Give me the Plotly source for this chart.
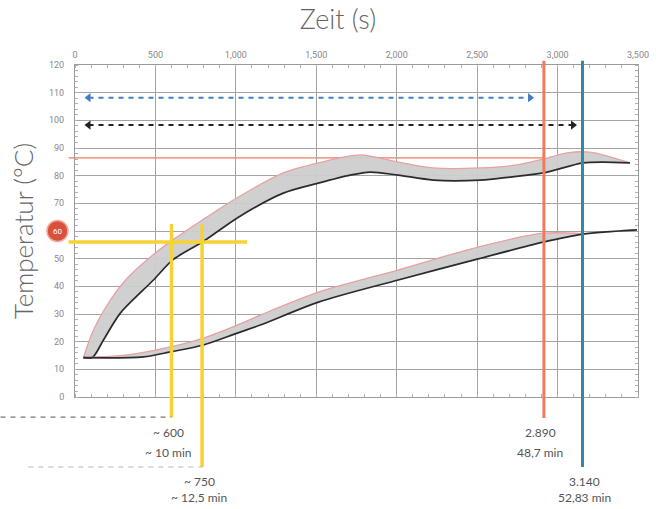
import plotly.graph_objects as go

# ---------------- data ----------------
X_RANGE = [0, 3500]
Y_RANGE = [0, 120]
x_tick_vals = [0, 500, 1000, 1500, 2000, 2500, 3000, 3500]
x_tick_text = ["0", "500", "1,000", "1,500", "2,000", "2,500", "3,000", "3,500"]
y_tick_vals = [0, 10, 20, 30, 40, 50, 60, 70, 80, 90, 100, 110, 120]
y_tick_text = ["0", "10", "20", "30", "40", "50", "", "70", "80", "90", "100", "110", "120"]

# upper (fast) band
upper_hi_s = [52, 115, 220, 326, 469, 606, 792, 1016, 1295, 1513, 1773, 2009, 2227, 2519, 2749, 2910, 3059, 3202, 3450]
upper_hi_t = [14.2, 24.2, 35, 43, 50.6, 56.7, 64, 72.3, 81, 84.6, 87.5, 84.9, 82.8, 82.8, 83.9, 86, 88.2, 88.5, 84.6]
upper_lo_s = [52, 110, 177, 283, 488, 606, 792, 1016, 1295, 1513, 1711, 1835, 2009, 2227, 2519, 2705, 2910, 3158, 3283, 3450]
upper_lo_t = [14.2, 14.4, 20.6, 30.4, 42.3, 49.5, 56, 65, 73.7, 77.3, 80.2, 81.3, 80.2, 78.4, 78.4, 79.5, 81, 84.6, 84.9, 84.6]

# lower (slow) band
lower_hi_s = [52, 326, 593, 798, 1009, 1152, 1513, 2009, 2506, 2910, 3158]
lower_hi_t = [14.2, 15.2, 18.1, 21.3, 26, 29.6, 37.9, 45.9, 54.2, 59.2, 59.0]
lower_lo_s = [52, 425, 593, 798, 1009, 1152, 1513, 2009, 2506, 2910, 3158, 3494]
lower_lo_t = [14.2, 14.5, 16.3, 18.8, 23.1, 26, 34.3, 42.3, 49.9, 56, 58.9, 60.4]

# reference lines
red_limit_t = 86.4
red_limit_range = [-40, 2915]
red_mark_s = 2915
blue_mark_s = 3155
yellow_marks_s = [600, 790]
yellow_level_t = 56
yellow_level_range = [-40, 1070]
blue_arrow = dict(s=[84, 2829], t=108.2)
black_arrow = dict(s=[84, 3096], t=98.3)
marker60 = dict(s=-109, t=60, text="60")

labels = [
    (580, -13.0, "~ 600"), (580, -19.9, "~ 10 min"),
    (773, -30.7, "~ 750"), (773, -36.5, "~ 12,5 min"),
    (2891, -13.0, "2.890"), (2891, -19.9, "48,7 min"),
    (3170, -30.7, "3.140"), (3170, -36.5, "52,83 min"),
]

# ---------------- helpers (axis value -> fraction of the plot area) ----------------
def xd(s):
    return (s - X_RANGE[0]) / (X_RANGE[1] - X_RANGE[0])

def yd(t):
    return (t - Y_RANGE[0]) / (Y_RANGE[1] - Y_RANGE[0])

PINK = "#e9a0a0"
BLACK = "#2b2b2b"
FILL = "rgba(205,205,205,0.95)"
RED = "#f07a5c"
BLUE = "#2f8aa6"
YELLOW = "#f6d335"

fig = go.Figure()

def band(hs, ht, ls, lt):
    fig.add_trace(go.Scatter(x=hs, y=ht, mode="lines", line=dict(color=PINK, width=1.3, shape="spline", smoothing=0.8),
                             hoverinfo="skip", showlegend=False))
    fig.add_trace(go.Scatter(x=ls, y=lt, mode="lines", line=dict(color=BLACK, width=1.7, shape="spline", smoothing=0.8),
                             fill="tonexty", fillcolor=FILL, hoverinfo="skip", showlegend=False))

band(upper_hi_s, upper_hi_t, upper_lo_s, upper_lo_t)
band(lower_hi_s, lower_hi_t, lower_lo_s, lower_lo_t)

# dashed arrows
for arr, col in [(blue_arrow, "#3f7fbd"), (black_arrow, "#222222")]:
    fig.add_trace(go.Scatter(
        x=arr["s"], y=[arr["t"], arr["t"]], mode="lines+markers",
        line=dict(color=col, width=2, dash="5px,5px"),
        marker=dict(symbol=["triangle-left", "triangle-right"], size=8, color=col),
        hoverinfo="skip", showlegend=False))

shapes = []
# red limit horizontal
shapes.append(dict(type="line", xref="paper", yref="paper", x0=xd(red_limit_range[0]), x1=xd(red_limit_range[1]),
                   y0=yd(red_limit_t), y1=yd(red_limit_t), line=dict(color=RED, width=1.2), layer="below"))
# yellow horizontal
shapes.append(dict(type="line", xref="paper", yref="paper", x0=xd(yellow_level_range[0]), x1=xd(yellow_level_range[1]),
                   y0=yd(yellow_level_t), y1=yd(yellow_level_t), line=dict(color=YELLOW, width=3.5), layer="above"))
# yellow verticals
shapes.append(dict(type="line", xref="x", yref="paper", x0=yellow_marks_s[0], x1=yellow_marks_s[0],
                   y0=yd(62.5), y1=yd(-7.3), line=dict(color=YELLOW, width=3.5), layer="above"))
shapes.append(dict(type="line", xref="x", yref="paper", x0=yellow_marks_s[1], x1=yellow_marks_s[1],
                   y0=yd(62.5), y1=yd(-25.3), line=dict(color=YELLOW, width=3.5), layer="above"))
# red / blue verticals
shapes.append(dict(type="line", xref="x", yref="paper", x0=red_mark_s, x1=red_mark_s,
                   y0=yd(121.5), y1=yd(-7.6), line=dict(color=RED, width=3), layer="above"))
shapes.append(dict(type="line", xref="x", yref="paper", x0=blue_mark_s, x1=blue_mark_s,
                   y0=yd(121.5), y1=yd(-25.3), line=dict(color=BLUE, width=3), layer="above"))
# dashed leader lines below the axis
shapes.append(dict(type="line", xref="paper", yref="paper", x0=xd(-463), x1=xd(yellow_marks_s[0]),
                   y0=yd(-7.3), y1=yd(-7.3), line=dict(color="#777777", width=1.2, dash="5px,5px")))
shapes.append(dict(type="line", xref="paper", yref="paper", x0=xd(-290), x1=xd(yellow_marks_s[1]),
                   y0=yd(-25.3), y1=yd(-25.3), line=dict(color="#b5b5b5", width=1.2, dash="5px,5px")))
# red "60" badge on the y axis
shapes.append(dict(type="circle", xref="paper", yref="y", xsizemode="pixel", ysizemode="pixel",
                   xanchor=xd(marker60["s"]), yanchor=marker60["t"], x0=-10.5, x1=10.5, y0=-10.5, y1=10.5,
                   fillcolor="#d9513d", line=dict(color="#f0aa9c", width=1.5), layer="above"))

annotations = []
for s, t, txt in labels:
    annotations.append(dict(x=s, y=yd(t), xref="x", yref="paper", text=txt, showarrow=False,
                            font=dict(family="Lato", size=12, color="#555555"),
                            xanchor="center", yanchor="middle"))
annotations.append(dict(x=xd(marker60["s"]), y=marker60["t"], xref="paper", yref="y", text=marker60["text"],
                        showarrow=False, font=dict(family="Roboto", size=8, color="white"),
                        xanchor="center", yanchor="middle"))

W, H = 662, 509
fig.update_layout(
    width=W, height=H,
    margin=dict(l=75, r=24, t=65, b=112, autoexpand=False),
    paper_bgcolor="white", plot_bgcolor="white",
    shapes=shapes, annotations=annotations,
    title=dict(text="Zeit (s)", x=338 / W, xanchor="center", y=1 - 20 / H, yanchor="middle",
               font=dict(family="Lato", size=27, color="#666666", weight=300)),
    xaxis=dict(range=X_RANGE, side="top", tickmode="array", tickvals=x_tick_vals, ticktext=x_tick_text,
               showgrid=True, gridcolor="#a3a3a3", gridwidth=1, zeroline=False,
               showline=True, linecolor="#9a9a9a", linewidth=1, mirror="ticks", ticks="",
               minor=dict(dtick=100, tick0=0, ticks="inside", ticklen=3, tickcolor="#b0b0b0", showgrid=False),
               tickfont=dict(family="Liberation Sans Narrow, Roboto", size=9, color="#888888"),
               ticklabelstandoff=2, automargin=False),
    yaxis=dict(range=Y_RANGE, tickmode="array", tickvals=y_tick_vals, ticktext=y_tick_text,
               showgrid=True, gridcolor="#a3a3a3", gridwidth=1, zeroline=False,
               showline=True, linecolor="#9a9a9a", linewidth=1, mirror="ticks", ticks="",
               minor=dict(dtick=2, tick0=0, ticks="inside", ticklen=3, tickcolor="#b0b0b0", showgrid=False),
               tickfont=dict(family="Liberation Sans Narrow, Roboto", size=9, color="#888888"),
               ticklabelstandoff=8, automargin=False,
               title=dict(text="Temperatur (°C)", standoff=7,
                          font=dict(family="Lato", size=26, color="#666666", weight=300))),
)

# remove the browser's default 8px body margin so the figure fills the window exactly
fig.write_html("out.html", config={"displayModeBar": False},
               post_script="document.body.style.margin='0';")
